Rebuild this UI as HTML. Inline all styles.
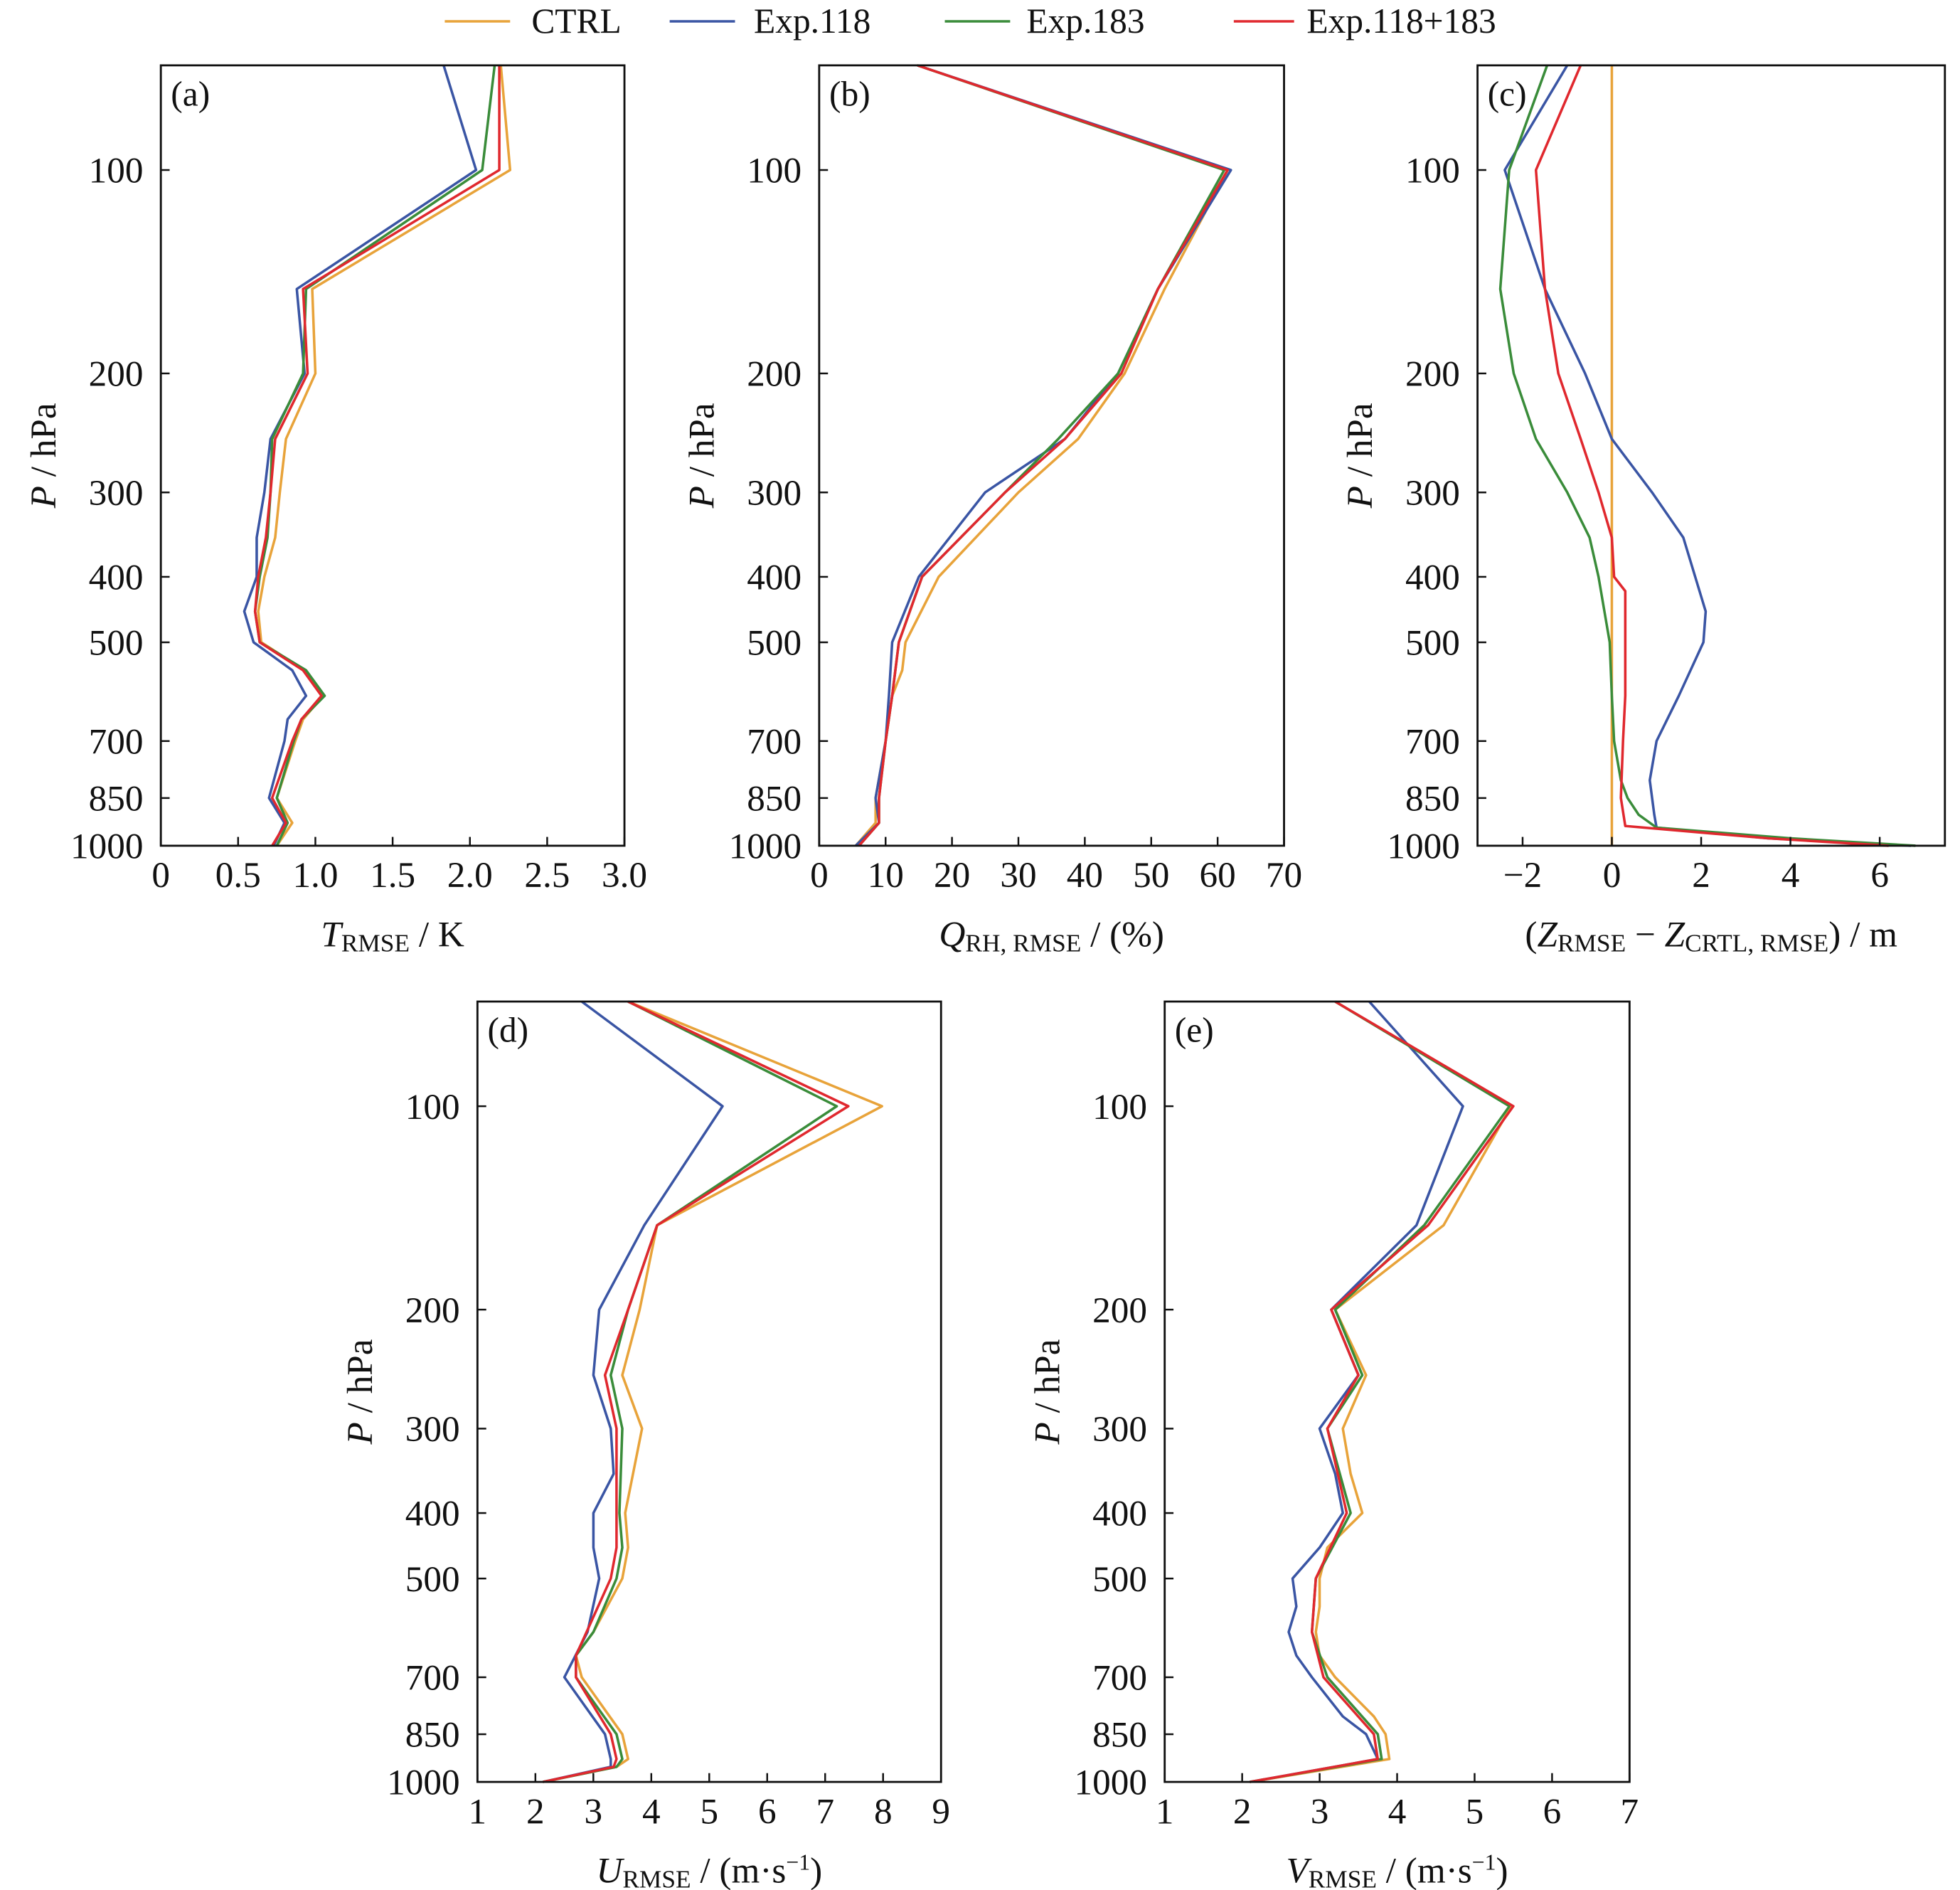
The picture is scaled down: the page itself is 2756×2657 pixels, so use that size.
<!DOCTYPE html>
<html><head><meta charset="utf-8">
<style>
html,body{margin:0;padding:0;background:#fff;}
svg{display:block;}
text{font-family:"Liberation Serif",serif;fill:#111;}
</style></head>
<body>
<svg id="s" width="2756" height="2657" viewBox="0 0 1560 1504" xmlns="http://www.w3.org/2000/svg">
<g font-size="28">
<line x1="354" y1="17" x2="406" y2="17" stroke="#E8A33A" stroke-width="2"/>
<text x="423" y="26">CTRL</text>
<line x1="533" y1="17" x2="585" y2="17" stroke="#3A55A4" stroke-width="2"/>
<text x="600" y="26">Exp.118</text>
<line x1="752" y1="17" x2="804" y2="17" stroke="#3A8C3A" stroke-width="2"/>
<text x="817" y="26">Exp.183</text>
<line x1="982" y1="17" x2="1030" y2="17" stroke="#E0282E" stroke-width="2"/>
<text x="1040" y="26">Exp.118+183</text>
</g>
<g id="plots"></g>
</svg>
<script>
var NS="http://www.w3.org/2000/svg";
var root=document.getElementById('plots');
function el(t,a,txt){var e=document.createElementNS(NS,t);for(var k in a)e.setAttribute(k,a[k]);if(txt!==undefined)e.textContent=txt;root.appendChild(e);return e;}
var COL={c:"#E8A33A",b:"#3A55A4",g:"#3A8C3A",r:"#E0282E"};
function panel(P){
  var L=P.L,R=P.R,T=P.T,B=P.B;
  var lt=Math.log10(70),lb=Math.log10(1000);
  function Y(p){return T+(Math.log10(p)-lt)/(lb-lt)*(B-T);}
  function X(v){return L+(v-P.x0)/(P.x1-P.x0)*(R-L);}
  ["c","b","g","r"].forEach(function(k){
    var d=P.d[k];var pts=[];
    for(var i=0;i<d.length;i+=2)pts.push(X(d[i+1]).toFixed(1)+","+Y(d[i]).toFixed(1));
    el("polyline",{points:pts.join(" "),fill:"none",stroke:COL[k],"stroke-width":2,"stroke-linejoin":"round"});
  });
  el("rect",{x:L,y:T,width:R-L,height:B-T,fill:"none",stroke:"#111","stroke-width":1.6});
  [100,200,300,400,500,700,850,1000].forEach(function(p){
    var y=Y(p);
    if(p!=1000)el("line",{x1:L,y1:y,x2:L+7,y2:y,stroke:"#111","stroke-width":1.4});
    el("text",{x:L-14,y:y+10,"text-anchor":"end","font-size":29},String(p));
  });
  P.xt.forEach(function(t){
    var x=X(t[0]);
    el("line",{x1:x,y1:B,x2:x,y2:B-7,stroke:"#111","stroke-width":1.4});
    el("text",{x:x,y:B+33,"text-anchor":"middle","font-size":29},t[1]);
  });
  el("text",{x:L+8,y:T+32,"font-size":28},P.lab);
  var cy=(T+B)/2;
  var yl=el("text",{x:0,y:0,"font-size":29,"text-anchor":"middle",transform:"translate("+(L-84)+","+(cy)+") rotate(-90)"});
  yl.innerHTML='<tspan font-style="italic">P</tspan> / hPa';
  var xl=el("text",{x:(L+R)/2,y:B+80,"font-size":29,"text-anchor":"middle"});
  xl.innerHTML=P.xl;
}
panel({L:128,R:497,T:52,B:673,x0:0,x1:3,lab:"(a)",
 xt:[[0,"0"],[0.5,"0.5"],[1,"1.0"],[1.5,"1.5"],[2,"2.0"],[2.5,"2.5"],[3,"3.0"]],
 xl:'<tspan font-style="italic">T</tspan><tspan font-size="20" dy="4">RMSE</tspan><tspan dy="-4"> / K</tspan>',
 d:{c:[70,2.2,100,2.26,150,0.98,200,1.0,250,0.81,300,0.77,350,0.74,400,0.67,450,0.63,500,0.65,550,0.93,600,1.05,650,0.92,700,0.87,850,0.75,925,0.85,1000,0.75],
    b:[70,1.83,100,2.04,150,0.88,200,0.93,250,0.71,300,0.67,350,0.62,400,0.62,450,0.54,500,0.6,550,0.85,600,0.94,650,0.82,700,0.8,850,0.70,925,0.80,1000,0.73],
    g:[70,2.16,100,2.08,150,0.94,200,0.92,250,0.72,300,0.71,350,0.69,400,0.64,450,0.61,500,0.64,550,0.94,600,1.06,650,0.91,700,0.86,850,0.75,925,0.82,1000,0.75],
    r:[70,2.19,100,2.19,150,0.92,200,0.95,250,0.74,300,0.71,350,0.68,400,0.63,450,0.61,500,0.64,550,0.92,600,1.04,650,0.91,700,0.85,850,0.72,925,0.81,1000,0.72]}});
panel({L:652,R:1022,T:52,B:673,x0:0,x1:70,lab:"(b)",
 xt:[[0,"0"],[10,"10"],[20,"20"],[30,"30"],[40,"40"],[50,"50"],[60,"60"],[70,"70"]],
 xl:'<tspan font-style="italic">Q</tspan><tspan font-size="20" dy="4">RH, RMSE</tspan><tspan dy="-4"> / (%)</tspan>',
 d:{c:[70,14.8,100,61.5,150,52,200,46,250,39,300,30,400,18,500,13,550,12.5,600,11,700,10,850,8.5,925,8.5,1000,5.5],
    b:[70,14.8,100,62,150,51,200,45,250,37,300,25,400,15,500,11,600,10.5,700,10,850,8.5,925,9,1000,5.5],
    g:[70,14.8,100,61,150,51,200,45,250,36,300,28,400,15.5,500,12,600,11,700,10,850,9,925,9,1000,6],
    r:[70,14.8,100,61.5,150,51,200,45.5,250,37,300,28,400,15.5,500,12,600,11,700,10,850,9,925,9,1000,6]}});
panel({L:1176,R:1548,T:52,B:673,x0:-3.01,x1:7.46,lab:"(c)",
 xt:[[-2,"\u22122"],[0,"0"],[2,"2"],[4,"4"],[6,"6"]],
 xl:'(<tspan font-style="italic">Z</tspan><tspan font-size="20" dy="4">RMSE</tspan><tspan dy="-4"> \u2212 </tspan><tspan font-style="italic">Z</tspan><tspan font-size="20" dy="4">CRTL, RMSE</tspan><tspan dy="-4">) / m</tspan>',
 d:{c:[70,0,1000,0],
    b:[70,-1.0,100,-2.4,150,-1.5,200,-0.6,250,0,300,0.9,350,1.6,450,2.1,500,2.05,600,1.5,700,1.0,800,0.85,900,0.95,940,1.0,975,3.5,1000,6.7],
    g:[70,-1.45,100,-2.3,150,-2.5,200,-2.2,250,-1.7,300,-1.0,350,-0.5,400,-0.3,500,-0.05,600,0,700,0.05,800,0.2,850,0.35,900,0.6,940,1.0,975,4.0,1000,6.8],
    r:[70,-0.7,100,-1.7,150,-1.5,200,-1.2,250,-0.7,300,-0.3,350,0,400,0.05,420,0.3,500,0.3,600,0.3,700,0.25,850,0.2,935,0.3,975,3.5,1000,6.2]}});
panel({L:380,R:749,T:797,B:1418,x0:1,x1:9,lab:"(d)",
 xt:[[1,"1"],[2,"2"],[3,"3"],[4,"4"],[5,"5"],[6,"6"],[7,"7"],[8,"8"],[9,"9"]],
 xl:'<tspan font-style="italic">U</tspan><tspan font-size="20" dy="4">RMSE</tspan><tspan dy="-4"> / (m\u00b7s</tspan><tspan font-size="18" dy="-10">\u22121</tspan><tspan dy="10">)</tspan>',
 d:{c:[70,3.6,100,7.98,150,4.1,200,3.8,250,3.5,300,3.84,400,3.55,450,3.6,500,3.5,600,3.0,650,2.7,700,2.8,850,3.5,925,3.6,950,3.4,1000,2.13],
    b:[70,2.8,100,5.23,150,3.88,200,3.1,250,3.0,300,3.3,350,3.35,400,3.0,450,3.0,500,3.1,600,2.9,700,2.5,850,3.2,925,3.3,950,3.3,1000,2.13],
    g:[70,3.6,100,7.2,150,4.1,200,3.6,250,3.3,300,3.5,400,3.45,450,3.5,500,3.4,600,3.0,650,2.7,700,2.7,850,3.4,925,3.5,950,3.4,1000,2.13],
    r:[70,3.6,100,7.4,150,4.1,200,3.6,250,3.2,300,3.4,400,3.4,450,3.4,500,3.3,650,2.7,700,2.7,850,3.3,925,3.4,950,3.35,1000,2.13]}});
panel({L:927,R:1297,T:797,B:1418,x0:1,x1:7,lab:"(e)",
 xt:[[1,"1"],[2,"2"],[3,"3"],[4,"4"],[5,"5"],[6,"6"],[7,"7"]],
 xl:'<tspan font-style="italic">V</tspan><tspan font-size="20" dy="4">RMSE</tspan><tspan dy="-4"> / (m\u00b7s</tspan><tspan font-size="18" dy="-10">\u22121</tspan><tspan dy="10">)</tspan>',
 d:{c:[70,3.2,100,5.47,150,4.6,200,3.2,250,3.6,300,3.3,350,3.4,400,3.55,450,3.1,500,3.0,550,3.0,600,2.95,650,3.0,700,3.2,800,3.7,850,3.85,925,3.9,1000,2.1],
    b:[70,3.64,100,4.85,150,4.25,200,3.15,250,3.5,300,3.0,350,3.2,400,3.3,450,3.0,500,2.65,550,2.7,600,2.6,650,2.7,700,2.9,800,3.3,850,3.6,925,3.75,1000,2.1],
    g:[70,3.2,100,5.45,150,4.35,200,3.2,250,3.55,300,3.1,400,3.4,500,2.95,600,2.9,700,3.1,850,3.75,925,3.8,1000,2.1],
    r:[70,3.2,100,5.5,150,4.4,200,3.15,250,3.5,300,3.1,400,3.35,500,2.95,600,2.9,700,3.05,850,3.7,925,3.75,1000,2.1]}});
</script>
</body></html>
